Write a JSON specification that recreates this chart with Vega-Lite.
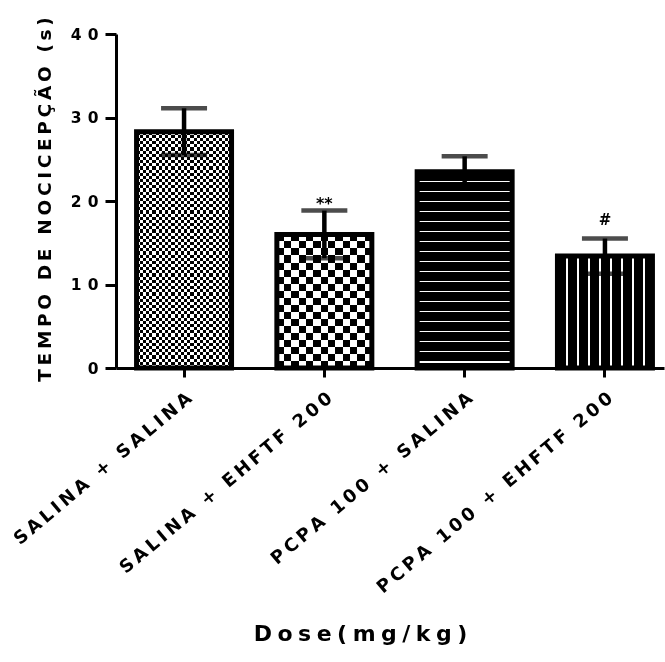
{
  "$schema": "https://vega.github.io/schema/vega-lite/v6.json",
  "autosize": {"type": "none"},
  "padding": {"left": 116, "top": 34, "right": 1, "bottom": 294},
  "width": 548,
  "height": 334,
  "background": "white",
  "config": {
    "view": {"stroke": null},
    "axis": {
      "grid": false,
      "domainColor": "#000",
      "domainWidth": 3,
      "tickColor": "#000",
      "tickWidth": 3,
      "labelColor": "#000",
      "titleColor": "#000",
      "labelFont": "DejaVu Sans",
      "titleFont": "DejaVu Sans",
      "labelFontWeight": "bold",
      "titleFontWeight": "bold"
    }
  },
  "data": {
    "values": [
      {"grupo": "SALINA + SALINA", "media": 28.3, "epm": 2.8, "sig": ""},
      {"grupo": "SALINA + EHFTF 200", "media": 16.0, "epm": 2.85, "sig": "**"},
      {"grupo": "PCPA 100 + SALINA", "media": 23.5, "epm": 1.85, "sig": ""},
      {"grupo": "PCPA 100 + EHFTF 200", "media": 13.4, "epm": 2.1, "sig": "#"}
    ]
  },
  "encoding": {
    "x": {
      "field": "grupo",
      "type": "nominal",
      "sort": null,
      "scale": {"paddingInner": 0.323, "paddingOuter": 0.1145, "align": 0.64},
      "axis": {
        "title": "D\u2005o\u2005s\u2005e\u2005(\u2005m\u2005g\u2005/\u2005k\u2005g\u2005)",
        "titleFontSize": 22,
        "titleX": 244,
        "titleY": 272,
        "titleAlign": "center",
        "titleBaseline": "alphabetic",
        "labelAngle": -40,
        "labelAlign": "right",
        "labelBaseline": "top",
        "labelFontSize": 18,
        "labelPadding": 12,
        "labelLimit": 0,
        "labelOverlap": false,
        "tickSize": 9,
        "labelExpr": "join(split(datum.label, ''), '\u2009')"
      }
    },
    "y": {
      "field": "media",
      "type": "quantitative",
      "scale": {"domain": [0, 40], "nice": false},
      "axis": {
        "title": "T\u2009E\u2009M\u2009P\u2009O\u2009 \u2009D\u2009E\u2009 \u2009N\u2009O\u2009C\u2009I\u2009C\u2009E\u2009P\u2009Ç\u2009Ã\u2009O\u2009 \u2009(\u2009s\u2009)",
        "titleFontSize": 18.5,
        "titleX": -72,
        "titleY": 165,
        "titleAngle": -90,
        "titleAlign": "center",
        "titleBaseline": "middle",
        "titleLimit": 0,
        "values": [0, 10, 20, 30, 40],
        "tickSize": 11,
        "labelFontSize": 15.5,
        "labelPadding": 7,
        "labelExpr": "join(split(datum.label, ''), '\u2009\u2009')"
      }
    }
  },
  "layer": [
    {
      "transform": [{"filter": "datum.grupo == 'SALINA + SALINA'"}],
      "mark": {
        "type": "bar",
        "fill": {
          "gradient": "linear", "x1": 0, "y1": 0, "x2": 1, "y2": 0,
          "stops": [
            {"offset": 0, "color": "#000"},
            {"offset": 0.0333, "color": "#000"}, {"offset": 0.0333, "color": "#fff"},
            {"offset": 0.0667, "color": "#fff"}, {"offset": 0.0667, "color": "#000"},
            {"offset": 0.1, "color": "#000"}, {"offset": 0.1, "color": "#fff"},
            {"offset": 0.1333, "color": "#fff"}, {"offset": 0.1333, "color": "#000"},
            {"offset": 0.1667, "color": "#000"}, {"offset": 0.1667, "color": "#fff"},
            {"offset": 0.2, "color": "#fff"}, {"offset": 0.2, "color": "#000"},
            {"offset": 0.2333, "color": "#000"}, {"offset": 0.2333, "color": "#fff"},
            {"offset": 0.2667, "color": "#fff"}, {"offset": 0.2667, "color": "#000"},
            {"offset": 0.3, "color": "#000"}, {"offset": 0.3, "color": "#fff"},
            {"offset": 0.3333, "color": "#fff"}, {"offset": 0.3333, "color": "#000"},
            {"offset": 0.3667, "color": "#000"}, {"offset": 0.3667, "color": "#fff"},
            {"offset": 0.4, "color": "#fff"}, {"offset": 0.4, "color": "#000"},
            {"offset": 0.4333, "color": "#000"}, {"offset": 0.4333, "color": "#fff"},
            {"offset": 0.4667, "color": "#fff"}, {"offset": 0.4667, "color": "#000"},
            {"offset": 0.5, "color": "#000"}, {"offset": 0.5, "color": "#fff"},
            {"offset": 0.5333, "color": "#fff"}, {"offset": 0.5333, "color": "#000"},
            {"offset": 0.5667, "color": "#000"}, {"offset": 0.5667, "color": "#fff"},
            {"offset": 0.6, "color": "#fff"}, {"offset": 0.6, "color": "#000"},
            {"offset": 0.6333, "color": "#000"}, {"offset": 0.6333, "color": "#fff"},
            {"offset": 0.6667, "color": "#fff"}, {"offset": 0.6667, "color": "#000"},
            {"offset": 0.7, "color": "#000"}, {"offset": 0.7, "color": "#fff"},
            {"offset": 0.7333, "color": "#fff"}, {"offset": 0.7333, "color": "#000"},
            {"offset": 0.7667, "color": "#000"}, {"offset": 0.7667, "color": "#fff"},
            {"offset": 0.8, "color": "#fff"}, {"offset": 0.8, "color": "#000"},
            {"offset": 0.8333, "color": "#000"}, {"offset": 0.8333, "color": "#fff"},
            {"offset": 0.8667, "color": "#fff"}, {"offset": 0.8667, "color": "#000"},
            {"offset": 0.9, "color": "#000"}, {"offset": 0.9, "color": "#fff"},
            {"offset": 0.9333, "color": "#fff"}, {"offset": 0.9333, "color": "#000"},
            {"offset": 0.9667, "color": "#000"}, {"offset": 0.9667, "color": "#fff"},
            {"offset": 1, "color": "#fff"}
          ]
        }
      }
    },
    {
      "transform": [{"filter": "datum.grupo == 'SALINA + SALINA'"}],
      "mark": {
        "type": "bar",
        "blend": "difference",
        "fill": {
          "gradient": "linear", "x1": 0, "y1": 0, "x2": 0, "y2": 1,
          "stops": [
            {"offset": 0, "color": "#000"},
            {"offset": 0.0133, "color": "#000"}, {"offset": 0.0133, "color": "#fff"},
            {"offset": 0.0267, "color": "#fff"}, {"offset": 0.0267, "color": "#000"},
            {"offset": 0.04, "color": "#000"}, {"offset": 0.04, "color": "#fff"},
            {"offset": 0.0533, "color": "#fff"}, {"offset": 0.0533, "color": "#000"},
            {"offset": 0.0667, "color": "#000"}, {"offset": 0.0667, "color": "#fff"},
            {"offset": 0.08, "color": "#fff"}, {"offset": 0.08, "color": "#000"},
            {"offset": 0.0933, "color": "#000"}, {"offset": 0.0933, "color": "#fff"},
            {"offset": 0.1067, "color": "#fff"}, {"offset": 0.1067, "color": "#000"},
            {"offset": 0.12, "color": "#000"}, {"offset": 0.12, "color": "#fff"},
            {"offset": 0.1333, "color": "#fff"}, {"offset": 0.1333, "color": "#000"},
            {"offset": 0.1467, "color": "#000"}, {"offset": 0.1467, "color": "#fff"},
            {"offset": 0.16, "color": "#fff"}, {"offset": 0.16, "color": "#000"},
            {"offset": 0.1733, "color": "#000"}, {"offset": 0.1733, "color": "#fff"},
            {"offset": 0.1867, "color": "#fff"}, {"offset": 0.1867, "color": "#000"},
            {"offset": 0.2, "color": "#000"}, {"offset": 0.2, "color": "#fff"},
            {"offset": 0.2133, "color": "#fff"}, {"offset": 0.2133, "color": "#000"},
            {"offset": 0.2267, "color": "#000"}, {"offset": 0.2267, "color": "#fff"},
            {"offset": 0.24, "color": "#fff"}, {"offset": 0.24, "color": "#000"},
            {"offset": 0.2533, "color": "#000"}, {"offset": 0.2533, "color": "#fff"},
            {"offset": 0.2667, "color": "#fff"}, {"offset": 0.2667, "color": "#000"},
            {"offset": 0.28, "color": "#000"}, {"offset": 0.28, "color": "#fff"},
            {"offset": 0.2933, "color": "#fff"}, {"offset": 0.2933, "color": "#000"},
            {"offset": 0.3067, "color": "#000"}, {"offset": 0.3067, "color": "#fff"},
            {"offset": 0.32, "color": "#fff"}, {"offset": 0.32, "color": "#000"},
            {"offset": 0.3333, "color": "#000"}, {"offset": 0.3333, "color": "#fff"},
            {"offset": 0.3467, "color": "#fff"}, {"offset": 0.3467, "color": "#000"},
            {"offset": 0.36, "color": "#000"}, {"offset": 0.36, "color": "#fff"},
            {"offset": 0.3733, "color": "#fff"}, {"offset": 0.3733, "color": "#000"},
            {"offset": 0.3867, "color": "#000"}, {"offset": 0.3867, "color": "#fff"},
            {"offset": 0.4, "color": "#fff"}, {"offset": 0.4, "color": "#000"},
            {"offset": 0.4133, "color": "#000"}, {"offset": 0.4133, "color": "#fff"},
            {"offset": 0.4267, "color": "#fff"}, {"offset": 0.4267, "color": "#000"},
            {"offset": 0.44, "color": "#000"}, {"offset": 0.44, "color": "#fff"},
            {"offset": 0.4533, "color": "#fff"}, {"offset": 0.4533, "color": "#000"},
            {"offset": 0.4667, "color": "#000"}, {"offset": 0.4667, "color": "#fff"},
            {"offset": 0.48, "color": "#fff"}, {"offset": 0.48, "color": "#000"},
            {"offset": 0.4933, "color": "#000"}, {"offset": 0.4933, "color": "#fff"},
            {"offset": 0.5067, "color": "#fff"}, {"offset": 0.5067, "color": "#000"},
            {"offset": 0.52, "color": "#000"}, {"offset": 0.52, "color": "#fff"},
            {"offset": 0.5333, "color": "#fff"}, {"offset": 0.5333, "color": "#000"},
            {"offset": 0.5467, "color": "#000"}, {"offset": 0.5467, "color": "#fff"},
            {"offset": 0.56, "color": "#fff"}, {"offset": 0.56, "color": "#000"},
            {"offset": 0.5733, "color": "#000"}, {"offset": 0.5733, "color": "#fff"},
            {"offset": 0.5867, "color": "#fff"}, {"offset": 0.5867, "color": "#000"},
            {"offset": 0.6, "color": "#000"}, {"offset": 0.6, "color": "#fff"},
            {"offset": 0.6133, "color": "#fff"}, {"offset": 0.6133, "color": "#000"},
            {"offset": 0.6267, "color": "#000"}, {"offset": 0.6267, "color": "#fff"},
            {"offset": 0.64, "color": "#fff"}, {"offset": 0.64, "color": "#000"},
            {"offset": 0.6533, "color": "#000"}, {"offset": 0.6533, "color": "#fff"},
            {"offset": 0.6667, "color": "#fff"}, {"offset": 0.6667, "color": "#000"},
            {"offset": 0.68, "color": "#000"}, {"offset": 0.68, "color": "#fff"},
            {"offset": 0.6933, "color": "#fff"}, {"offset": 0.6933, "color": "#000"},
            {"offset": 0.7067, "color": "#000"}, {"offset": 0.7067, "color": "#fff"},
            {"offset": 0.72, "color": "#fff"}, {"offset": 0.72, "color": "#000"},
            {"offset": 0.7333, "color": "#000"}, {"offset": 0.7333, "color": "#fff"},
            {"offset": 0.7467, "color": "#fff"}, {"offset": 0.7467, "color": "#000"},
            {"offset": 0.76, "color": "#000"}, {"offset": 0.76, "color": "#fff"},
            {"offset": 0.7733, "color": "#fff"}, {"offset": 0.7733, "color": "#000"},
            {"offset": 0.7867, "color": "#000"}, {"offset": 0.7867, "color": "#fff"},
            {"offset": 0.8, "color": "#fff"}, {"offset": 0.8, "color": "#000"},
            {"offset": 0.8133, "color": "#000"}, {"offset": 0.8133, "color": "#fff"},
            {"offset": 0.8267, "color": "#fff"}, {"offset": 0.8267, "color": "#000"},
            {"offset": 0.84, "color": "#000"}, {"offset": 0.84, "color": "#fff"},
            {"offset": 0.8533, "color": "#fff"}, {"offset": 0.8533, "color": "#000"},
            {"offset": 0.8667, "color": "#000"}, {"offset": 0.8667, "color": "#fff"},
            {"offset": 0.88, "color": "#fff"}, {"offset": 0.88, "color": "#000"},
            {"offset": 0.8933, "color": "#000"}, {"offset": 0.8933, "color": "#fff"},
            {"offset": 0.9067, "color": "#fff"}, {"offset": 0.9067, "color": "#000"},
            {"offset": 0.92, "color": "#000"}, {"offset": 0.92, "color": "#fff"},
            {"offset": 0.9333, "color": "#fff"}, {"offset": 0.9333, "color": "#000"},
            {"offset": 0.9467, "color": "#000"}, {"offset": 0.9467, "color": "#fff"},
            {"offset": 0.96, "color": "#fff"}, {"offset": 0.96, "color": "#000"},
            {"offset": 0.9733, "color": "#000"}, {"offset": 0.9733, "color": "#fff"},
            {"offset": 0.9867, "color": "#fff"}, {"offset": 0.9867, "color": "#000"},
            {"offset": 1, "color": "#000"}
          ]
        }
      }
    },
    {
      "transform": [{"filter": "datum.grupo == 'SALINA + EHFTF 200'"}],
      "mark": {
        "type": "bar",
        "fill": {
          "gradient": "linear", "x1": 0, "y1": 0, "x2": 1, "y2": 0,
          "stops": [
            {"offset": 0, "color": "#000"},
            {"offset": 0.0769, "color": "#000"}, {"offset": 0.0769, "color": "#fff"},
            {"offset": 0.1538, "color": "#fff"}, {"offset": 0.1538, "color": "#000"},
            {"offset": 0.2308, "color": "#000"}, {"offset": 0.2308, "color": "#fff"},
            {"offset": 0.3077, "color": "#fff"}, {"offset": 0.3077, "color": "#000"},
            {"offset": 0.3846, "color": "#000"}, {"offset": 0.3846, "color": "#fff"},
            {"offset": 0.4615, "color": "#fff"}, {"offset": 0.4615, "color": "#000"},
            {"offset": 0.5385, "color": "#000"}, {"offset": 0.5385, "color": "#fff"},
            {"offset": 0.6154, "color": "#fff"}, {"offset": 0.6154, "color": "#000"},
            {"offset": 0.6923, "color": "#000"}, {"offset": 0.6923, "color": "#fff"},
            {"offset": 0.7692, "color": "#fff"}, {"offset": 0.7692, "color": "#000"},
            {"offset": 0.8462, "color": "#000"}, {"offset": 0.8462, "color": "#fff"},
            {"offset": 0.9231, "color": "#fff"}, {"offset": 0.9231, "color": "#000"},
            {"offset": 1, "color": "#000"}
          ]
        }
      }
    },
    {
      "transform": [{"filter": "datum.grupo == 'SALINA + EHFTF 200'"}],
      "mark": {
        "type": "bar",
        "blend": "difference",
        "fill": {
          "gradient": "linear", "x1": 0, "y1": 0, "x2": 0, "y2": 1,
          "stops": [
            {"offset": 0, "color": "#000"},
            {"offset": 0.0526, "color": "#000"}, {"offset": 0.0526, "color": "#fff"},
            {"offset": 0.1053, "color": "#fff"}, {"offset": 0.1053, "color": "#000"},
            {"offset": 0.1579, "color": "#000"}, {"offset": 0.1579, "color": "#fff"},
            {"offset": 0.2105, "color": "#fff"}, {"offset": 0.2105, "color": "#000"},
            {"offset": 0.2632, "color": "#000"}, {"offset": 0.2632, "color": "#fff"},
            {"offset": 0.3158, "color": "#fff"}, {"offset": 0.3158, "color": "#000"},
            {"offset": 0.3684, "color": "#000"}, {"offset": 0.3684, "color": "#fff"},
            {"offset": 0.4211, "color": "#fff"}, {"offset": 0.4211, "color": "#000"},
            {"offset": 0.4737, "color": "#000"}, {"offset": 0.4737, "color": "#fff"},
            {"offset": 0.5263, "color": "#fff"}, {"offset": 0.5263, "color": "#000"},
            {"offset": 0.5789, "color": "#000"}, {"offset": 0.5789, "color": "#fff"},
            {"offset": 0.6316, "color": "#fff"}, {"offset": 0.6316, "color": "#000"},
            {"offset": 0.6842, "color": "#000"}, {"offset": 0.6842, "color": "#fff"},
            {"offset": 0.7368, "color": "#fff"}, {"offset": 0.7368, "color": "#000"},
            {"offset": 0.7895, "color": "#000"}, {"offset": 0.7895, "color": "#fff"},
            {"offset": 0.8421, "color": "#fff"}, {"offset": 0.8421, "color": "#000"},
            {"offset": 0.8947, "color": "#000"}, {"offset": 0.8947, "color": "#fff"},
            {"offset": 0.9474, "color": "#fff"}, {"offset": 0.9474, "color": "#000"},
            {"offset": 1, "color": "#000"}
          ]
        }
      }
    },
    {
      "transform": [{"filter": "datum.grupo == 'PCPA 100 + SALINA'"}],
      "mark": {
        "type": "bar",
        "fill": {
          "gradient": "linear", "x1": 0, "y1": 0, "x2": 0, "y2": 1,
          "stops": [
            {"offset": 0, "color": "#000"},
            {"offset": 0.0469, "color": "#000"}, {"offset": 0.0469, "color": "#fff"}, {"offset": 0.0545, "color": "#fff"}, {"offset": 0.0545, "color": "#000"},
            {"offset": 0.0979, "color": "#000"}, {"offset": 0.0979, "color": "#fff"}, {"offset": 0.1055, "color": "#fff"}, {"offset": 0.1055, "color": "#000"},
            {"offset": 0.1488, "color": "#000"}, {"offset": 0.1488, "color": "#fff"}, {"offset": 0.1564, "color": "#fff"}, {"offset": 0.1564, "color": "#000"},
            {"offset": 0.1998, "color": "#000"}, {"offset": 0.1998, "color": "#fff"}, {"offset": 0.2074, "color": "#fff"}, {"offset": 0.2074, "color": "#000"},
            {"offset": 0.2508, "color": "#000"}, {"offset": 0.2508, "color": "#fff"}, {"offset": 0.2584, "color": "#fff"}, {"offset": 0.2584, "color": "#000"},
            {"offset": 0.3017, "color": "#000"}, {"offset": 0.3017, "color": "#fff"}, {"offset": 0.3094, "color": "#fff"}, {"offset": 0.3094, "color": "#000"},
            {"offset": 0.3527, "color": "#000"}, {"offset": 0.3527, "color": "#fff"}, {"offset": 0.3603, "color": "#fff"}, {"offset": 0.3603, "color": "#000"},
            {"offset": 0.4037, "color": "#000"}, {"offset": 0.4037, "color": "#fff"}, {"offset": 0.4113, "color": "#fff"}, {"offset": 0.4113, "color": "#000"},
            {"offset": 0.4546, "color": "#000"}, {"offset": 0.4546, "color": "#fff"}, {"offset": 0.4623, "color": "#fff"}, {"offset": 0.4623, "color": "#000"},
            {"offset": 0.5056, "color": "#000"}, {"offset": 0.5056, "color": "#fff"}, {"offset": 0.5132, "color": "#fff"}, {"offset": 0.5132, "color": "#000"},
            {"offset": 0.5566, "color": "#000"}, {"offset": 0.5566, "color": "#fff"}, {"offset": 0.5642, "color": "#fff"}, {"offset": 0.5642, "color": "#000"},
            {"offset": 0.6075, "color": "#000"}, {"offset": 0.6075, "color": "#fff"}, {"offset": 0.6152, "color": "#fff"}, {"offset": 0.6152, "color": "#000"},
            {"offset": 0.6585, "color": "#000"}, {"offset": 0.6585, "color": "#fff"}, {"offset": 0.6661, "color": "#fff"}, {"offset": 0.6661, "color": "#000"},
            {"offset": 0.7095, "color": "#000"}, {"offset": 0.7095, "color": "#fff"}, {"offset": 0.7171, "color": "#fff"}, {"offset": 0.7171, "color": "#000"},
            {"offset": 0.7605, "color": "#000"}, {"offset": 0.7605, "color": "#fff"}, {"offset": 0.7681, "color": "#fff"}, {"offset": 0.7681, "color": "#000"},
            {"offset": 0.8114, "color": "#000"}, {"offset": 0.8114, "color": "#fff"}, {"offset": 0.819, "color": "#fff"}, {"offset": 0.819, "color": "#000"},
            {"offset": 0.8624, "color": "#000"}, {"offset": 0.8624, "color": "#fff"}, {"offset": 0.87, "color": "#fff"}, {"offset": 0.87, "color": "#000"},
            {"offset": 0.9134, "color": "#000"}, {"offset": 0.9134, "color": "#fff"}, {"offset": 0.921, "color": "#fff"}, {"offset": 0.921, "color": "#000"},
            {"offset": 0.9643, "color": "#000"}, {"offset": 0.9643, "color": "#fff"}, {"offset": 0.972, "color": "#fff"}, {"offset": 0.972, "color": "#000"},
            {"offset": 1, "color": "#000"}
          ]
        }
      }
    },
    {
      "transform": [{"filter": "datum.grupo == 'PCPA 100 + EHFTF 200'"}],
      "mark": {
        "type": "bar",
        "fill": {
          "gradient": "linear", "x1": 0, "y1": 0, "x2": 1, "y2": 0,
          "stops": [
            {"offset": 0, "color": "#000"},
            {"offset": 0.0916, "color": "#000"}, {"offset": 0.0916, "color": "#fff"}, {"offset": 0.1095, "color": "#fff"}, {"offset": 0.1095, "color": "#000"},
            {"offset": 0.2074, "color": "#000"}, {"offset": 0.2074, "color": "#fff"}, {"offset": 0.2253, "color": "#fff"}, {"offset": 0.2253, "color": "#000"},
            {"offset": 0.3232, "color": "#000"}, {"offset": 0.3232, "color": "#fff"}, {"offset": 0.3411, "color": "#fff"}, {"offset": 0.3411, "color": "#000"},
            {"offset": 0.4389, "color": "#000"}, {"offset": 0.4389, "color": "#fff"}, {"offset": 0.4568, "color": "#fff"}, {"offset": 0.4568, "color": "#000"},
            {"offset": 0.5547, "color": "#000"}, {"offset": 0.5547, "color": "#fff"}, {"offset": 0.5726, "color": "#fff"}, {"offset": 0.5726, "color": "#000"},
            {"offset": 0.6705, "color": "#000"}, {"offset": 0.6705, "color": "#fff"}, {"offset": 0.6884, "color": "#fff"}, {"offset": 0.6884, "color": "#000"},
            {"offset": 0.7863, "color": "#000"}, {"offset": 0.7863, "color": "#fff"}, {"offset": 0.8042, "color": "#fff"}, {"offset": 0.8042, "color": "#000"},
            {"offset": 0.9021, "color": "#000"}, {"offset": 0.9021, "color": "#fff"}, {"offset": 0.92, "color": "#fff"}, {"offset": 0.92, "color": "#000"},
            {"offset": 1, "color": "#000"}
          ]
        }
      }
    },
    {
      "mark": {"type": "bar", "fill": "transparent", "stroke": "#000", "strokeWidth": 5, "strokeJoin": "miter"}
    },
    {
      "mark": {"type": "errorbar", "color": "#000", "thickness": 4.5, "ticks": {"size": 46}},
      "encoding": {"yError": {"field": "epm"}}
    },
    {
      "transform": [
        {"filter": "datum.sig == '**'"},
        {"calculate": "datum.media + datum.epm", "as": "topo"}
      ],
      "mark": {"type": "text", "font": "DejaVu Sans", "fontWeight": "bold", "fontSize": 16, "baseline": "alphabetic", "dy": -2, "color": "#000"},
      "encoding": {
        "y": {"field": "topo", "type": "quantitative"},
        "text": {"field": "sig"}
      }
    },
    {
      "transform": [
        {"filter": "datum.sig == '#'"},
        {"calculate": "datum.media + datum.epm", "as": "topo"}
      ],
      "mark": {"type": "text", "font": "DejaVu Sans", "fontWeight": "bold", "fontSize": 15, "baseline": "alphabetic", "dy": -14, "color": "#000"},
      "encoding": {
        "y": {"field": "topo", "type": "quantitative"},
        "text": {"field": "sig"}
      }
    }
  ]
}
